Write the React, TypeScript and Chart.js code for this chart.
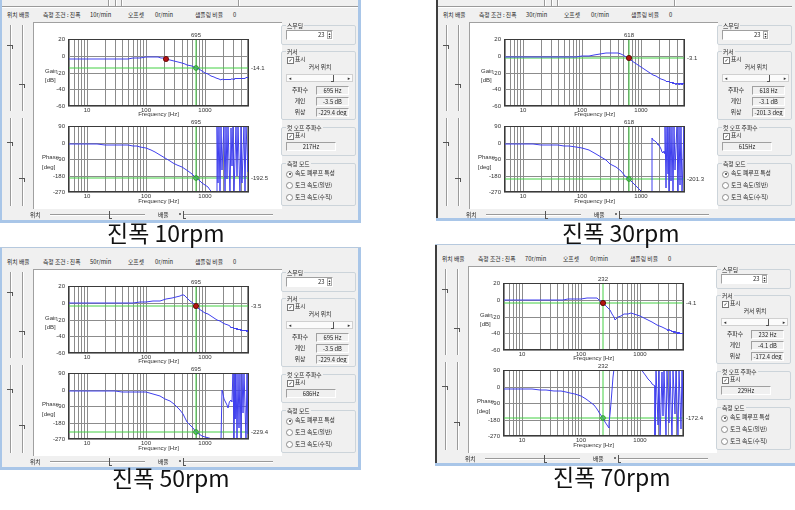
import React, { useEffect, useRef } from "react";
import { Chart, registerables } from "chart.js";

Chart.register(...registerables);

type Pt = [number, number];

// ---------- axes ----------
const FREQ_MIN = 4.8;
const FREQ_MAX = 5500;
const freqGridTicks = [5, 6, 7, 8, 9, 10, 20, 30, 40, 50, 60, 70, 80, 90, 100, 200, 300, 400, 500, 600, 700, 800, 900, 1000, 2000, 3000, 4000, 5000];
const freqLabels = [10, 100, 1000];
const gainTicks = [20, 0, -20, -40, -60];
const phaseTicks = [90, 0, -90, -180, -270];

// ---------- 10 rpm ----------
const gain10: Pt[] = [
  [4.8, -3.5], [6, -3.5], [8, -3.6], [10, -3.6], [15, -3.6], [20, -3.5], [30, -3.5], [40, -3.4], [50, -3.3], [60, -3.1], [70, -2.8], [80, -2.5],
  [100, -2.0], [120, -1.6], [140, -1.4], [160, -1.6], [180, -2.1], [200, -2.8], [217, -3.6], [250, -5.0], [300, -6.6], [350, -8.0], [400, -9.2],
  [450, -10.2], [500, -11.1], [600, -12.7], [695, -14.1], [800, -16.0], [900, -18.0], [1000, -20.0], [1100, -21.8], [1250, -24.0], [1400, -25.8],
  [1550, -27.0], [1700, -27.9], [1850, -28.4], [1950, -27.6], [2050, -28.9], [2150, -27.8], [2250, -28.7], [2350, -27.4], [2450, -28.9],
  [2550, -27.7], [2650, -28.5], [2750, -27.2], [2850, -28.2], [2950, -27.5], [3050, -28.6], [3200, -27.1], [3350, -27.9], [3500, -26.8],
  [3650, -27.7], [3800, -26.9], [3950, -27.8], [4100, -26.5], [4250, -27.4], [4400, -26.3], [4550, -27.5], [4700, -26.1], [4850, -27.0],
  [5000, -25.8], [5150, -26.8], [5300, -25.6], [5450, -26.4], [5500, -26.0],
];
const phase10: Pt[] = [
  [4.8, -9], [6, -9], [8, -10], [10, -10], [15, -10], [20, -11], [30, -12], [40, -13], [50, -15], [60, -18], [70, -21], [80, -24], [100, -30],
  [120, -40], [140, -50], [173, -67], [210, -86], [250, -100], [286, -110], [340, -124], [400, -135], [457, -145], [520, -158], [600, -172],
  [695, -192.5], [800, -206], [900, -220], [1000, -233], [1100, -245], [1200, -258], [1300, -270], [1400, -282], [1500, -290], [1570, -285],
  [1600, 95], [1660, -220], [1720, 100], [1800, -280], [1880, 90], [1960, -150], [2050, 100], [2150, -275], [2250, 95], [2350, -200],
  [2460, 100], [2580, -290], [2700, 80], [2830, -130], [2970, 100], [3120, -270], [3280, 95], [3450, -180], [3630, 100], [3820, -290],
  [4020, 85], [4230, -220], [4450, 100], [4690, -280], [4940, 90], [5200, -160], [5500, 100],
];
const gain10Clip: Pt[][] = [];
const phase10Clip: Pt[][] = [[[1300, -270], [1590, -270]], [[1600, 90], [5500, 90]]];

// ---------- 30 rpm ----------
const gain30: Pt[] = [
  [4.8, -1.8], [6, -1.8], [8, -1.9], [10, -1.9], [15, -1.9], [20, -1.9], [30, -1.8], [40, -1.7], [50, -1.6], [60, -1.4], [80, -1.1], [100, -0.7],
  [130, 0], [160, 0.9], [200, 1.9], [250, 2.9], [300, 3.5], [350, 3.7], [400, 3.3], [450, 2.0], [500, 0.3], [560, -1.5], [618, -3.1], [700, -5.8],
  [800, -8.7], [900, -11.4], [1000, -13.6], [1100, -15.6], [1250, -18.0], [1400, -20.2], [1600, -22.5], [1800, -24.4], [2000, -26.0],
  [2200, -27.4], [2400, -28.6], [2600, -29.7], [2700, -31.0], [2800, -29.8], [2900, -31.6], [3000, -30.4], [3100, -32.3], [3200, -30.9],
  [3300, -33.0], [3400, -31.4], [3500, -33.6], [3600, -32.0], [3700, -34.2], [3800, -32.3], [3900, -34.8], [4000, -32.6], [4100, -33.9],
  [4200, -32.1], [4300, -34.5], [4400, -32.8], [4500, -35.0], [4600, -32.9], [4700, -34.1], [4800, -32.4], [4900, -34.6], [5000, -32.7],
  [5100, -33.8], [5200, -32.2], [5300, -34.3], [5400, -32.9], [5500, -33.5],
];
const phase30: Pt[] = [
  [4.8, -8], [6, -8], [8, -9], [10, -9], [15, -10], [20, -11], [25, -12], [30, -13], [40, -15], [50, -17], [60, -19], [80, -23], [100, -28],
  [130, -40], [173, -60], [210, -78], [255, -98], [300, -115], [375, -136], [450, -158], [530, -180], [618, -201.3], [700, -218], [820, -236],
  [900, -248], [1000, -262], [1040, -270], [1100, -280], [1300, -290], [1510, -290], [1520, 22], [1600, 16], [1680, 10], [1760, 4], [1830, 0],
  [1900, -8], [1960, -15], [2010, -11], [2080, -22], [2150, -38], [2200, -33], [2280, -52], [2380, -56], [2450, -45], [2520, -60], [2550, 110],
  [2620, -250], [2700, 105], [2790, -170], [2880, 100], [2980, -290], [3090, 95], [3210, -210], [3340, 100], [3480, -285], [3630, 90],
  [3790, -150], [3960, 100], [4140, -290], [4330, 95], [4530, -230], [4750, 100], [4980, -290], [5230, 90], [5500, -200],
];
const gain30Clip: Pt[][] = [];
const phase30Clip: Pt[][] = [[[1040, -270], [1515, -270]], [[2550, 90], [5500, 90]]];

// ---------- 50 rpm ----------
const gain50: Pt[] = [
  [4.8, -0.3], [6, -0.3], [8, -0.3], [10, -0.3], [15, -0.3], [20, -0.3], [30, -0.2], [40, -0.1], [50, 0], [60, 0.2], [80, 0.5], [100, 0.9],
  [130, 1.6], [172, 2.6], [220, 3.9], [270, 5.3], [320, 6.8], [370, 8.2], [410, 9.3], [430, 9.6], [460, 8.0], [500, 5.6], [560, 2.0],
  [630, -0.8], [695, -3.5], [800, -7.3], [900, -10.0], [1000, -12.0], [1100, -13.9], [1250, -16.3], [1400, -18.3], [1600, -20.5],
  [1800, -22.2], [2000, -23.9], [2200, -25.5], [2400, -27.0], [2600, -28.3], [2700, -29.6], [2800, -28.6], [2900, -30.3], [3000, -29.2],
  [3100, -31.0], [3200, -29.8], [3300, -31.6], [3400, -30.3], [3500, -32.1], [3600, -30.8], [3700, -32.6], [3800, -31.2], [3900, -33.1],
  [4000, -31.7], [4100, -33.4], [4200, -32.0], [4300, -33.8], [4400, -32.3], [4500, -34.1], [4600, -32.6], [4700, -34.3], [4800, -32.9],
  [4900, -34.0], [5000, -33.1], [5100, -34.5], [5200, -32.8], [5300, -34.2], [5400, -33.0], [5500, -34.0],
];
const phase50: Pt[] = [
  [4.8, -6], [6, -6], [8, -7], [10, -7], [15, -8], [20, -9], [30, -10], [40, -11], [50, -12], [60, -13], [80, -14], [100, -16], [130, -24],
  [172, -37], [210, -50], [255, -64], [300, -80], [340, -96], [375, -110], [420, -135], [457, -156], [500, -178], [555, -196], [620, -212],
  [695, -229.4], [800, -243], [900, -252], [1000, -258], [1150, -264], [1300, -268], [1370, -270], [1500, -275], [1700, -280], [1880, -280],
  [1900, 0], [2000, -25], [2100, -50], [2200, -64], [2300, -85], [2400, -100], [2480, -80], [2550, -76], [2650, -60], [2750, -55], [2850, -70],
  [2950, 110], [3040, -270], [3140, 100], [3250, -160], [3360, 110], [3480, -290], [3610, 95], [3750, -210], [3900, 100], [4060, -290],
  [4230, 90], [4410, -130], [4600, 100], [4800, -280], [5020, 95], [5250, -240], [5500, 100],
];
const gain50Clip: Pt[][] = [];
const phase50Clip: Pt[][] = [[[1000, -270], [1890, -270]], [[2950, 90], [5500, 90]]];

// ---------- 70 rpm ----------
const gain70: Pt[] = [
  [4.8, 0], [6, 0], [8, 0], [10, 0], [15, 0], [20, 0], [30, 0.1], [40, 0.1], [50, 0.2], [60, 0.3], [80, 0.6], [100, 1.0], [125, 1.5],
  [150, 1.9], [165, 2.0], [185, 1.5], [205, -0.2], [220, -2.0], [232, -4.1], [255, -6.5], [280, -8.8], [310, -12.0], [335, -16.5],
  [355, -21.0], [372, -23.8], [390, -23.2], [420, -21.0], [470, -19.0], [540, -17.6], [620, -16.5], [700, -16.2], [780, -16.6], [880, -17.8],
  [1000, -19.5], [1150, -21.5], [1350, -24.0], [1600, -26.6], [1950, -29.8], [2300, -32.3], [2700, -34.8], [2900, -35.8], [3000, -36.8],
  [3100, -35.5], [3200, -37.6], [3300, -36.2], [3400, -38.3], [3500, -36.9], [3600, -38.9], [3700, -37.4], [3800, -39.4], [3900, -37.9],
  [4000, -39.8], [4100, -38.2], [4200, -40.3], [4300, -38.6], [4400, -40.6], [4500, -38.9], [4600, -40.9], [4700, -39.2], [4800, -41.0],
  [4900, -39.5], [5000, -40.8], [5100, -39.3], [5200, -41.2], [5300, -39.8], [5400, -40.9], [5500, -40.2],
];
const phase70: Pt[] = [
  [4.8, -14], [6, -14], [8, -15], [10, -15], [15, -16], [20, -17], [26, -19], [35, -22], [45, -25], [55, -29], [66, -33], [80, -41],
  [100, -52], [120, -67], [144, -85], [165, -102], [187, -123], [210, -148], [232, -172.4], [255, -192], [272, -208], [292, -225], [300, -200],
  [310, -150], [320, -90], [332, -20], [345, 50], [355, 95], [1040, 95], [1100, 80], [1232, 58], [1350, 40], [1499, 22], [1600, 14],
  [1750, 3], [1800, -280], [1880, 100], [1970, -210], [2070, 95], [2180, -290], [2300, 80], [2430, -160], [2570, 100], [2720, -280],
  [2880, 90], [3050, -200], [3230, 100], [3420, -290], [3630, 85], [3850, -150], [4080, 100], [4330, -290], [4600, 90], [4880, -230],
  [5180, 100], [5500, -290],
];
const gain70Clip: Pt[][] = [];
const phase70Clip: Pt[][] = [[[355, 90], [1040, 90]]];

// ---------- cursor / readouts ----------
const speeds = ["10r/min", "30r/min", "50r/min", "70r/min"];
const captions = ["진폭 10rpm", "진폭 30rpm", "진폭 50rpm", "진폭 70rpm"];
const cursorFreqs = [695, 618, 695, 232];
const cursorGains = [-14.1, -3.1, -3.5, -4.1];
const cursorPhases = [-192.5, -201.3, -229.4, -172.4];
const cutoffDots: Pt[] = [[217, -3.6], [618, -3.1], [695, -3.5], [232, -4.1]];
const readFreq = ["695 Hz", "618 Hz", "695 Hz", "232 Hz"];
const readGain = ["-3.5 dB", "-3.1 dB", "-3.5 dB", "-4.1 dB"];
const readPhase = ["-229.4 deg", "-201.3 deg", "-229.4 deg", "-172.4 deg"];
const readCutoff = ["217Hz", "615Hz", "686Hz", "229Hz"];
const smoothing = ["23", "23", "23", "23"];

const gainCurves = [gain10, gain30, gain50, gain70];
const phaseCurves = [phase10, phase30, phase50, phase70];
const gainClips = [gain10Clip, gain30Clip, gain50Clip, gain70Clip];
const phaseClips = [phase10Clip, phase30Clip, phase50Clip, phase70Clip];

// ---------- styles ----------
const BLUE = "#4040ee";
const GREEN = "#45d045";
const RED_CLIP = "#ff7878";
const GRID = "#8c8c8c";
const FONT_KR = '"Noto Sans CJK KR", "Noto Sans", sans-serif';
const FONT_SMALL = "Liberation Sans";
const FRAME = "#a9c6e8";

const overlayPlugin = {
  id: "overlay",
  afterDraw(chart: any, _a: any, o: any) {
    const { ctx, chartArea: a } = chart;
    const xs = chart.scales.x;
    const ys = chart.scales.y;
    ctx.save();
    ctx.strokeStyle = "#3a3a3a";
    ctx.lineWidth = 1;
    ctx.strokeRect(Math.round(a.left) + 0.5, Math.round(a.top) + 0.5, Math.round(a.right - a.left) - 1, Math.round(a.bottom - a.top) - 1);
    ctx.fillStyle = "#333";
    ctx.font = `6px "${FONT_SMALL}"`;
    ctx.textBaseline = "middle";
    ctx.textAlign = "left";
    ctx.fillText(o.name1, a.left + o.nameDx, a.top + o.nameDy1);
    ctx.fillText(o.name2, a.left + o.nameDx, a.top + o.nameDy2);
    ctx.textAlign = "center";
    ctx.fillText("Frequency [Hz]", (a.left + a.right) / 2, a.bottom + o.freqDy);
    ctx.fillText(o.topLabel, xs.getPixelForValue(o.cursorF), a.top - 4);
    ctx.textAlign = "left";
    ctx.fillText(o.rightLabel, a.right + 2, ys.getPixelForValue(o.cursorV));
    ctx.restore();
  },
};

type PlotProps = {
  kind: "gain" | "phase";
  curve: Pt[];
  clipped: Pt[][];
  cursorF: number;
  cursorV: number;
  dot?: Pt;
  left: number;
  top: number;
};

function BodePlot(p: PlotProps) {
  const ref = useRef<HTMLCanvasElement | null>(null);
  useEffect(() => {
    const c = ref.current;
    if (!c) return;
    const isGain = p.kind === "gain";
    const yMin = isGain ? -60 : -270;
    const yMax = isGain ? 20 : 90;
    const yTicks = isGain ? gainTicks : phaseTicks;
    const xy = (q: Pt) => ({ x: q[0], y: q[1] });
    const datasets: any[] = [];
    if (p.dot)
      datasets.push({ data: [xy(p.dot)], showLine: false, pointRadius: 2.6, pointBackgroundColor: "#b31212", pointBorderColor: "#5a0000", pointBorderWidth: 0.8 });
    datasets.push({ data: [{ x: p.cursorF, y: p.cursorV }], showLine: false, pointRadius: 2.3, pointBackgroundColor: "rgba(70,200,70,0.55)", pointBorderColor: "#1f9a1f", pointBorderWidth: 1 });
    datasets.push({ data: p.curve.map(xy), borderColor: BLUE, borderWidth: 1, pointRadius: 0 });
    p.clipped.forEach((seg) => datasets.push({ data: seg.map(xy), borderColor: RED_CLIP, borderWidth: 1.5, pointRadius: 0 }));
    datasets.push({ data: [{ x: p.cursorF, y: yMin }, { x: p.cursorF, y: yMax }], borderColor: GREEN, borderWidth: 1, pointRadius: 0 });
    datasets.push({ data: [{ x: FREQ_MIN, y: p.cursorV }, { x: FREQ_MAX, y: p.cursorV }], borderColor: GREEN, borderWidth: 1, pointRadius: 0 });

    const tickFont = { family: FONT_SMALL, size: 6 };
    const chart = new Chart(c, {
      type: "line",
      data: { datasets },
      options: {
        animation: false,
        responsive: false,
        devicePixelRatio: 1,
        events: [],
        layout: { padding: { top: isGain ? 11 : 10, right: 33, left: 0, bottom: 0 } },
        elements: { line: { tension: 0 } },
        plugins: {
          legend: { display: false },
          tooltip: { enabled: false },
          overlay: {
            name1: isGain ? "Gain" : "Phase",
            name2: isGain ? "[dB]" : "[deg]",
            nameDx: isGain ? -23 : -26,
            nameDy1: isGain ? 32 : 31,
            nameDy2: isGain ? 41 : 41,
            freqDy: isGain ? 8 : 9,
            topLabel: String(p.cursorF),
            rightLabel: String(p.cursorV),
            cursorF: p.cursorF,
            cursorV: p.cursorV,
          },
        } as any,
        scales: {
          x: {
            type: "logarithmic",
            min: FREQ_MIN,
            max: FREQ_MAX,
            bounds: "data",
            alignToPixels: true,
            afterBuildTicks: (s: any) => {
              s.ticks = freqGridTicks.map((v) => ({ value: v }));
            },
            afterFit: (s: any) => {
              s.height = isGain ? 14 : 16;
            },
            ticks: {
              autoSkip: false,
              maxRotation: 0,
              minRotation: 0,
              padding: 1,
              color: "#333",
              font: tickFont,
              callback: (v: any) => (freqLabels.includes(Number(v)) ? String(v) : ""),
            },
            grid: { color: GRID, lineWidth: 1, drawTicks: false },
            border: { display: false },
          } as any,
          y: {
            type: "linear",
            min: yMin,
            max: yMax,
            bounds: "data",
            alignToPixels: true,
            afterBuildTicks: (s: any) => {
              s.ticks = yTicks.map((v) => ({ value: v }));
            },
            afterFit: (s: any) => {
              s.width = 32;
            },
            ticks: { padding: 3, color: "#333", font: tickFont, callback: (v: any) => String(v) },
            grid: { color: GRID, lineWidth: 1, drawTicks: false },
            border: { display: false },
          } as any,
        },
      },
      plugins: [overlayPlugin as any],
    });
    return () => chart.destroy();
  }, []);
  return (
    <canvas
      ref={ref}
      width={246}
      height={92}
      style={{ position: "absolute", left: p.left, top: p.top, width: 246, height: 92 }}
    />
  );
}

// ---------- small UI helpers ----------
function T({ x, y, s = 5.8, align, children, color = "#1e1e1e" }: any) {
  const st: any = {
    position: "absolute",
    top: y - s * 0.56,
    fontSize: s,
    lineHeight: 1,
    fontFamily: FONT_KR,
    color,
    whiteSpace: "nowrap",
  };
  if (align === "center") {
    st.left = x - 40;
    st.width = 80;
    st.textAlign = "center";
  } else {
    st.left = x;
  }
  return <div style={st}>{children}</div>;
}

function Group({ x, y, w, h, title }: any) {
  return (
    <div style={{ position: "absolute", left: x, top: y, width: w, height: h, boxSizing: "border-box", border: "1px solid #ccd4da", borderRadius: 2 }}>
      <div style={{ position: "absolute", left: 4, top: -4, background: "#f0f0f0", padding: "0 1px", fontFamily: FONT_KR, fontSize: 5.8, lineHeight: "7px", color: "#1e1e1e", whiteSpace: "nowrap" }}>
        {title}
      </div>
    </div>
  );
}

function Box({ x, y, w, h, text, bg = "#f0f0f0", align = "center" }: any) {
  return (
    <div
      style={{
        position: "absolute",
        left: x,
        top: y,
        width: w,
        height: h,
        boxSizing: "border-box",
        borderTop: "1px solid #a0a0a0",
        borderLeft: "1px solid #a0a0a0",
        borderBottom: "1px solid #fff",
        borderRight: "1px solid #fff",
        background: bg,
        fontFamily: FONT_KR,
        fontSize: 5.8,
        lineHeight: `${h - 2}px`,
        textAlign: align,
        color: "#222",
        whiteSpace: "nowrap",
        overflow: "hidden",
      }}
    >
      {text}
    </div>
  );
}

function Check({ x, y }: any) {
  return (
    <div style={{ position: "absolute", left: x, top: y - 3, width: 5, height: 5, border: "1px solid #777", background: "#fff", fontSize: 5, lineHeight: "5px", textAlign: "center", color: "#222", fontFamily: "DejaVu Sans" }}>
      ✓
    </div>
  );
}

function Radio({ x, y, on }: any) {
  return (
    <div style={{ position: "absolute", left: x - 3, top: y - 3, width: 5, height: 5, borderRadius: "50%", border: "1px solid #8a8a8a", background: "#fff" }}>
      {on && <div style={{ position: "absolute", left: 1.5, top: 1.5, width: 2, height: 2, borderRadius: "50%", background: "#333" }} />}
    </div>
  );
}

function HLine({ x, y, w }: any) {
  return <div style={{ position: "absolute", left: x, top: y, width: w, height: 1, background: "#9a9a9a", borderBottom: "1px solid #fff" }} />;
}
function VLine({ x, y, h }: any) {
  return <div style={{ position: "absolute", left: x, top: y, width: 1, height: h, background: "#9a9a9a", borderRight: "1px solid #fff" }} />;
}

type PanelCfg = { i: number; x: number; y: number; w: number; h: number; topPanel: boolean };

function Panel({ c }: { c: PanelCfg }) {
  const i = c.i;
  const thumbs = [46, 85, 143, 179];
  return (
    <div style={{ position: "absolute", left: c.x, top: c.y, width: c.w, height: c.h, background: "#f0f0f0", overflow: "hidden" }}>
      {/* window frame */}
      <div style={{ position: "absolute", left: 0, top: 0, width: 2, height: c.h, background: c.x > 100 ? "#3e3e3e" : FRAME }} />
      <div style={{ position: "absolute", left: 0, top: c.h - 3, width: c.w, height: 3, background: FRAME }} />
      {c.x < 100 && <div style={{ position: "absolute", left: c.w - 3, top: 0, width: 3, height: c.h, background: FRAME }} />}
      {c.topPanel ? (
        <>
          <HLine x={2} y={6} w={c.w - 5} />
          {[108, 115, 121, 238].map((sx) => (
            <VLine key={sx} x={sx} y={0} h={6} />
          ))}
        </>
      ) : (
        <div style={{ position: "absolute", left: 0, top: 0, width: c.w, height: 1, background: "#b6c9de" }} />
      )}

      {/* header */}
      <T x={7} y={15}>위치 배율</T>
      <T x={43} y={15}>측정 조건 : 진폭</T>
      <T x={90} y={15}>{speeds[i]}</T>
      <T x={128} y={15}>오프셋</T>
      <T x={155} y={15}>0r/min</T>
      <T x={195} y={15}>샘플링 비율</T>
      <T x={233} y={15}>0</T>

      {/* left vertical sliders */}
      {[10, 22].map((tx) => (
        <React.Fragment key={tx}>
          <VLine x={tx} y={25} h={86} />
          <VLine x={tx} y={118} h={88} />
        </React.Fragment>
      ))}
      {thumbs.map((ty, k) => (
        <div key={k} style={{ position: "absolute", left: (k % 2 === 0 ? 10 : 22) - 3, top: ty - 1, width: 5, height: 3, borderTop: "1px solid #555", borderRight: "1px solid #555" }} />
      ))}

      {/* plot area */}
      <div style={{ position: "absolute", left: 33, top: 22, width: 248, height: 186, background: "#fff", borderLeft: "1px solid #a0a0a0", borderTop: "1px solid #a0a0a0" }} />
      <BodePlot kind="gain" curve={gainCurves[i]} clipped={gainClips[i]} cursorF={cursorFreqs[i]} cursorV={cursorGains[i]} dot={cutoffDots[i]} left={36} top={28} />
      <BodePlot kind="phase" curve={phaseCurves[i]} clipped={phaseClips[i]} cursorF={cursorFreqs[i]} cursorV={cursorPhases[i]} left={36} top={116} />

      {/* bottom sliders */}
      <T x={30} y={215}>위치</T>
      <HLine x={50} y={214} w={95} />
      <div style={{ position: "absolute", left: 109, top: 211, width: 2, height: 7, borderLeft: "1px solid #555", borderBottom: "1px solid #555" }} />
      <T x={158} y={215}>배율</T>
      <div style={{ position: "absolute", left: 179, top: 213, width: 2, height: 2, background: "#777" }} />
      <HLine x={184} y={214} w={89} />
      <div style={{ position: "absolute", left: 183, top: 211, width: 2, height: 7, borderLeft: "1px solid #555", borderBottom: "1px solid #555" }} />

      {/* sidebar */}
      <Group x={281} y={25} w={75} h={20} title="스무딩" />
      <Box x={286} y={30} w={47} h={10} bg="#fff" text="" />
      <T x={318} y={35}>{smoothing[i]}</T>
      <div style={{ position: "absolute", left: 327, top: 31, width: 5, height: 8, border: "1px solid #aaa", boxSizing: "border-box", fontSize: 4, lineHeight: "3px", textAlign: "center", color: "#333", fontFamily: "DejaVu Sans" }}>
        ▴<br />▾
      </div>

      <Group x={281} y={51} w={75} h={69} title="커서" />
      <Check x={287} y={59.5} />
      <T x={295} y={59.5}>표시</T>
      <T x={320} y={67} align="center">커서 위치</T>
      <div style={{ position: "absolute", left: 286, top: 74, width: 67, height: 8, background: "#fbfbfb", border: "1px solid #d0d0d0", boxSizing: "border-box" }}>
        <div style={{ position: "absolute", left: 0, top: 0, width: 6, height: 6, fontSize: 5, lineHeight: "6px", textAlign: "center", color: "#333", fontFamily: "DejaVu Sans" }}>◂</div>
        <div style={{ position: "absolute", right: 0, top: 0, width: 6, height: 6, fontSize: 5, lineHeight: "6px", textAlign: "center", color: "#333", fontFamily: "DejaVu Sans" }}>▸</div>
        <div style={{ position: "absolute", left: 44, top: 0, width: 2, height: 6, borderRight: "1px solid #555", borderBottom: "1px solid #555" }} />
      </div>
      <T x={300} y={90} align="center">주파수</T>
      <Box x={316} y={86} w={33} h={9} text={readFreq[i]} />
      <T x={300} y={101} align="center">게인</T>
      <Box x={316} y={97} w={33} h={9} text={readGain[i]} />
      <T x={300} y={112.5} align="center">위상</T>
      <Box x={316} y={108} w={33} h={9} text={readPhase[i]} />

      <Group x={281} y={127} w={75} h={29} title="컷 오프 주파수" />
      <Check x={287} y={135.5} />
      <T x={295} y={135.5}>표시</T>
      <Box x={286} y={142} w={50} h={9} text={readCutoff[i]} />

      <Group x={281} y={163} w={75} h={43} title="측정 모드" />
      <Radio x={289} y={173.5} on />
      <T x={295} y={173.5}>속도 폐루프 특성</T>
      <Radio x={289} y={185} />
      <T x={295} y={185}>토크 속도(일반)</T>
      <Radio x={289} y={197} />
      <T x={295} y={197}>토크 속도(수직)</T>
    </div>
  );
}

const panelCfgs: PanelCfg[] = [
  { i: 0, x: 0, y: 0, w: 361, h: 223, topPanel: true },
  { i: 1, x: 436, y: 0, w: 359, h: 221, topPanel: true },
  { i: 2, x: 0, y: 247, w: 361, h: 223, topPanel: false },
  { i: 3, x: 435, y: 244, w: 360, h: 222, topPanel: false },
];
const captionPos = [
  { x: 107, y: 221 },
  { x: 562, y: 221 },
  { x: 112, y: 466 },
  { x: 553, y: 465 },
];

export default function App() {
  return (
    <div style={{ position: "absolute", left: 0, top: 0, width: 795, height: 510, background: "#fff", overflow: "hidden" }}>
      {panelCfgs.map((c) => (
        <Panel key={c.i} c={c} />
      ))}
      {captions.map((t, k) => (
        <div
          key={k}
          style={{
            position: "absolute",
            left: captionPos[k].x,
            top: captionPos[k].y,
            fontFamily: FONT_KR,
            fontSize: 23,
            lineHeight: "23px",
            color: "#111",
            whiteSpace: "nowrap",
          }}
        >
          {t}
        </div>
      ))}
    </div>
  );
}
